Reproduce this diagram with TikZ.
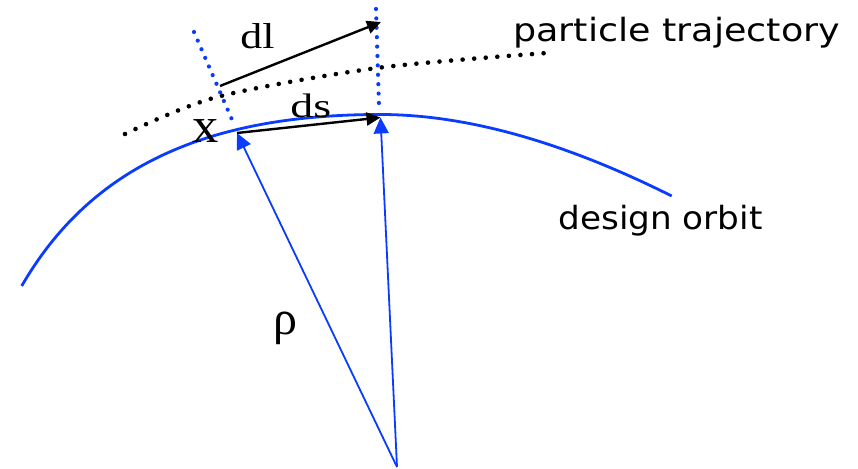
\documentclass[tikz,border=0pt]{standalone}
\usepackage{fontspec}
\usepackage{xcolor}
\usetikzlibrary{
    calc,
    arrows.meta
}
\setmainfont{Liberation Serif}
\newfontfamily\captionfont{DejaVu Sans}
\definecolor{OrbitBlue}{HTML}{0A3CFF}
\definecolor{Ink}{HTML}{000000}
\newcommand{\widetext}[2]{\scalebox{#1}[1]{#2}}

\tikzset{
    orbit/.style={draw=OrbitBlue, line width=1.4pt},
    radiusline/.style={draw=OrbitBlue, line width=0.9pt, -{Triangle[length=8pt,width=7.5pt]}},
    vec/.style={draw=Ink, line width=1.2pt, -{Triangle[length=7pt,width=6.5pt]}},
    trajectory/.style={draw=Ink, line width=2.3pt, line cap=round, dash pattern=on 0pt off 5.8pt},
    perp/.style={draw=OrbitBlue, line width=2.1pt, line cap=round, dash pattern=on 0pt off 4.7pt},
    serif/.style={inner sep=0pt, text=Ink, anchor=base west},
    caption/.style={inner sep=0pt, text=Ink, anchor=base west, font=\captionfont\fontsize{16}{16}\selectfont}
}

\begin{document}
\begin{tikzpicture}[x=0.5pt, y=-0.5pt]

                \useasboundingbox (0,0) rectangle (858,469);

                \coordinate (centre) at (397,467);
                \coordinate (sA) at (237,133);
                \coordinate (sB) at (380.5,117.5);
                \coordinate (lA) at (220,86);
                \coordinate (lB) at (381,22);
                \coordinate (pA1) at (194,32);
                \coordinate (pA2) at (233,122);
                \coordinate (pB1) at (376,9);
                \coordinate (pB2) at (379,106);
                \coordinate (orbitL) at (21.7,286);
                \coordinate (orbitTop) at (380,114.5);
                \coordinate (orbitR) at (671.7,196);

                \draw[orbit] (orbitL) .. controls (91.7,164.8) and (210,114.5) .. (orbitTop)
                    .. controls (480,114.5) and (582.3,151.3) .. (orbitR);

                \draw[trajectory] plot[smooth] coordinates {
                    (125,134) (217,97) (377,68) (547,53)
                };

                \draw[perp] (pA1) -- (pA2);
                \draw[perp] (pB1) -- (pB2);

                \draw[radiusline] (centre) -- (sA);
                \draw[radiusline] (centre) -- (sB);

                \draw[vec] (sA) -- (sB);
                \draw[vec] (lA) -- (lB);

                \node[serif, font=\fontsize{18}{18}\selectfont] (dl) at (240,49) {\widetext{1.22}{dl}};
                \node[serif, font=\fontsize{17}{17}\selectfont] (ds) at (290,118) {\widetext{1.35}{ds}};
                \node[serif, font=\fontsize{25}{25}\selectfont] (x) at (192,143) {\widetext{1.05}{x}};
                \node[serif, font=\fontsize{24}{24}\selectfont] (rho) at (273,335) {ρ};

                \node[caption] (trajlabel) at (513,41.7) {\widetext{1.14}{particle trajectory}};
                \node[caption] (orbitlabel) at (558,230) {\widetext{1.07}{design orbit}};

            \end{tikzpicture}
\end{document}
